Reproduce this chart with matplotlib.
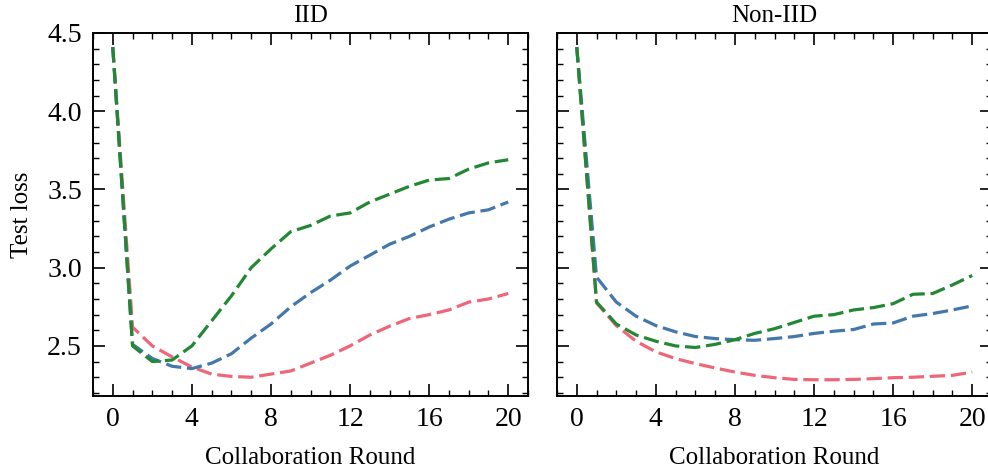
import numpy as np
import matplotlib
matplotlib.use("Agg")
import matplotlib.pyplot as plt
from matplotlib.ticker import MultipleLocator

# collaboration rounds 0..20
rounds = list(range(21))

# IID panel
iid_red = [4.41, 2.62, 2.50, 2.43, 2.365, 2.32, 2.305, 2.30, 2.32, 2.34, 2.39,
           2.44, 2.50, 2.57, 2.626, 2.675, 2.70, 2.73, 2.78, 2.80, 2.835]
iid_blue = [4.41, 2.51, 2.42, 2.37, 2.355, 2.39, 2.45, 2.55, 2.64, 2.75, 2.84,
            2.92, 3.01, 3.08, 3.15, 3.20, 3.26, 3.31, 3.35, 3.37, 3.42]
iid_green = [4.41, 2.50, 2.40, 2.41, 2.50, 2.66, 2.82, 3.00, 3.12, 3.23, 3.27,
             3.33, 3.35, 3.42, 3.47, 3.52, 3.56, 3.57, 3.63, 3.67, 3.69]

# Non-IID panel
niid_red = [4.41, 2.775, 2.63, 2.53, 2.462, 2.419, 2.387, 2.359, 2.333, 2.312, 2.297,
            2.286, 2.284, 2.284, 2.286, 2.291, 2.297, 2.30, 2.306, 2.312, 2.333]
niid_blue = [4.41, 2.94, 2.78, 2.69, 2.63, 2.59, 2.56, 2.547, 2.54, 2.536, 2.547,
             2.56, 2.58, 2.594, 2.605, 2.64, 2.647, 2.69, 2.707, 2.73, 2.756]
niid_green = [4.41, 2.78, 2.64, 2.57, 2.53, 2.50, 2.49, 2.51, 2.54, 2.58, 2.61,
              2.65, 2.69, 2.70, 2.73, 2.745, 2.77, 2.83, 2.835, 2.89, 2.95]

titles = ["IID", "Non-IID"]
colors = ["#EE6677", "#4477AA", "#228833"]

plt.rcParams['font.family'] = ['Liberation Serif', 'DejaVu Serif']
plt.rcParams['mathtext.fontset'] = 'stix'

fig = plt.figure(figsize=(9.88, 4.70), dpi=100)
W, H = 988.0, 470.0
ax1 = fig.add_axes([93 / W, (H - 396) / H, 435 / W, 363 / H])
ax2 = fig.add_axes([557 / W, (H - 396) / H, 435 / W, 363 / H])

panels = [(ax1, [iid_red, iid_blue, iid_green]),
          (ax2, [niid_red, niid_blue, niid_green])]

for i, (ax, series) in enumerate(panels):
    for ys, c in zip(series, colors):
        ax.plot(rounds, ys, '--', color=c, lw=2.3, dashes=(4.8, 1.8))
    ax.set_xlim(-1, 21)
    ax.set_ylim(2.18, 4.5)
    ax.xaxis.set_major_locator(MultipleLocator(4))
    ax.xaxis.set_minor_locator(MultipleLocator(1))
    ax.yaxis.set_major_locator(MultipleLocator(0.5))
    ax.yaxis.set_minor_locator(MultipleLocator(0.1))
    ax.tick_params(which='both', direction='in', top=True, right=True,
                   labelsize=20, pad=8)
    ax.tick_params(which='major', length=8.5, width=1.2)
    ax.tick_params(which='minor', length=4.5, width=1.0)
    for s in ax.spines.values():
        s.set_linewidth(1.4)
    ax.set_title(titles[i], fontsize=18, pad=8)
    ax.set_xlabel("Collaboration Round", fontsize=18, labelpad=11)

ax1.set_ylabel("Test loss", fontsize=18, labelpad=10)
ax2.tick_params(labelleft=False)

fig.savefig("out.png", dpi=100)
